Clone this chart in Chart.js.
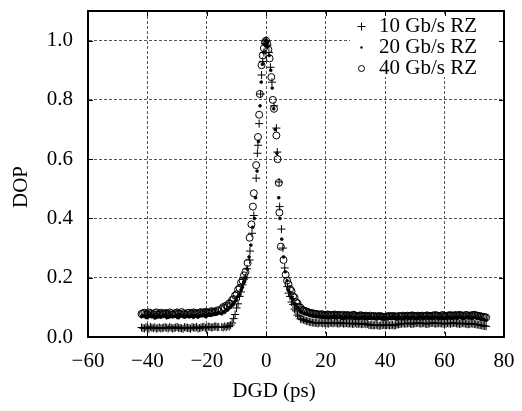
<!DOCTYPE html>
<html>
<head>
<meta charset="utf-8">
<script src="https://cdn.jsdelivr.net/npm/chart.js@4/dist/chart.umd.min.js"></script>
<style>
html, body { margin: 0; padding: 0; background: #fff; }
canvas { display: block; }
</style>
</head>
<body>
<canvas id="dopChart" width="522" height="411"></canvas>
<script>
const serif = "'Liberation Serif', 'Times New Roman', serif";

const xTicks = [-60, -40, -20, 0, 20, 40, 60, 80];
const yTicks = [0, 0.2, 0.4, 0.6, 0.8, 1.0];
const seriesNames = ['10 Gb/s RZ', '20 Gb/s RZ', '40 Gb/s RZ'];

// flat tail, negative DGD (whole ps)
const dgdLeft = [
    -42, -41, -40, -39, -38, -37, -36, -35, -34, -33,
    -32, -31, -30, -29, -28, -27, -26, -25, -24, -23,
    -22, -21, -20, -19, -18, -17, -16
];
const dop10Left = [
    0.032, 0.029, 0.031, 0.034, 0.030, 0.028, 0.032, 0.030, 0.033, 0.029,
    0.031, 0.030, 0.034, 0.031, 0.028, 0.032, 0.030, 0.033, 0.031, 0.029,
    0.032, 0.035, 0.031, 0.034, 0.033, 0.036, 0.034
];
const dop20Left = [
    0.068, 0.072, 0.065, 0.070, 0.074, 0.066, 0.071, 0.069, 0.073, 0.067,
    0.072, 0.070, 0.066, 0.074, 0.069, 0.071, 0.068, 0.073, 0.070, 0.067,
    0.072, 0.075, 0.071, 0.074, 0.077, 0.079, 0.082
];
const dop40Left = [
    0.078, 0.082, 0.075, 0.080, 0.077, 0.083, 0.076, 0.079, 0.081, 0.074,
    0.080, 0.078, 0.083, 0.077, 0.080, 0.076, 0.082, 0.079, 0.081, 0.078,
    0.084, 0.080, 0.083, 0.081, 0.086, 0.084, 0.088
];

// flat tail, negative DGD (half ps)
const dgdLeftHalf = [
    -41.5, -40.5, -39.5, -38.5, -37.5, -36.5, -35.5, -34.5, -33.5, -32.5,
    -31.5, -30.5, -29.5, -28.5, -27.5, -26.5, -25.5, -24.5, -23.5, -22.5,
    -21.5, -20.5, -19.5, -18.5, -17.5, -16.5
];
const dop10LeftHalf = [
    0.030, 0.033, 0.028, 0.031, 0.033, 0.030, 0.029, 0.032, 0.031, 0.034,
    0.029, 0.032, 0.030, 0.029, 0.033, 0.031, 0.028, 0.032, 0.034, 0.030,
    0.033, 0.031, 0.035, 0.032, 0.035, 0.033
];
const dop20LeftHalf = [
    0.071, 0.066, 0.073, 0.068, 0.064, 0.072, 0.067, 0.074, 0.065, 0.070,
    0.068, 0.073, 0.065, 0.071, 0.067, 0.074, 0.069, 0.066, 0.072, 0.070,
    0.074, 0.069, 0.076, 0.073, 0.078, 0.080
];
const dop40LeftHalf = [
    0.080, 0.076, 0.083, 0.078, 0.081, 0.075, 0.082, 0.077, 0.079, 0.083,
    0.076, 0.081, 0.079, 0.084, 0.077, 0.081, 0.078, 0.083, 0.080, 0.082,
    0.079, 0.085, 0.082, 0.087, 0.083, 0.090
];

// rising edge before the peak
const dgdRise = [-15, -14.5, -14, -13.5, -13, -12.5, -12, -11.5, -11, -10.5, -10, -9.5, -9, -8.5, -8, -7.5];
const dop10Rise = [0.034, 0.032, 0.036, 0.033, 0.037, 0.035, 0.040, 0.047, 0.062, 0.076, 0.098, 0.112, 0.137, 0.152, 0.176, 0.195];
const dop20Rise = [0.078, 0.084, 0.083, 0.090, 0.091, 0.098, 0.100, 0.108, 0.110, 0.121, 0.125, 0.138, 0.144, 0.159, 0.168, 0.186];
const dop40Rise = [0.095, 0.101, 0.098, 0.106, 0.104, 0.114, 0.112, 0.125, 0.128, 0.140, 0.144, 0.160, 0.165, 0.183, 0.190, 0.208];

// central peak
const dgd10Peak = [-7.0, -6.4, -5.6, -5.5, -4.8, -4.2, -3.4, -3.0, -2.8, -2.4, -1.9, -1.6, -1.2, -0.8, -0.4, 0.0, 0.4, 0.9, 1.4, 1.9, 2.6, 3.4, 3.7, 4.3, 4.5, 5.1, 5.6, 6.2, 7.1];
const dop10Peak = [0.20, 0.23, 0.26, 0.29, 0.35, 0.41, 0.536, 0.62, 0.647, 0.72, 0.82, 0.884, 0.93, 0.96, 0.99, 1.0, 0.985, 0.96, 0.91, 0.86, 0.78, 0.705, 0.624, 0.523, 0.44, 0.364, 0.30, 0.233, 0.17];
const dgd20Peak = [-7.0, -6.5, -5.8, -5.2, -4.6, -4.0, -3.6, -3.1, -2.6, -2.1, -1.7, -1.3, -0.9, -0.5, -0.2, 0.2, 0.6, 1.0, 1.5, 2.0, 2.5, 3.0, 3.6, 4.2, 4.6, 5.2, 5.8, 6.4, 7.0];
const dop20Peak = [0.20, 0.23, 0.27, 0.31, 0.37, 0.40, 0.47, 0.56, 0.66, 0.78, 0.86, 0.92, 0.96, 0.985, 1.0, 0.995, 0.98, 0.95, 0.90, 0.84, 0.77, 0.70, 0.62, 0.47, 0.40, 0.33, 0.27, 0.22, 0.19];
const dgd40Peak = [-7.0, -6.3, -5.6, -5.0, -4.5, -4.2, -3.4, -2.8, -2.4, -2.2, -1.6, -1.2, -0.8, -0.4, -0.1, 0.3, 0.7, 1.1, 1.7, 2.2, 2.6, 3.4, 3.8, 4.2, 4.4, 4.9, 5.8, 6.5, 7.0];
const dop40Peak = [0.22, 0.25, 0.335, 0.38, 0.44, 0.485, 0.58, 0.675, 0.75, 0.82, 0.917, 0.95, 0.975, 0.995, 1.0, 0.99, 0.97, 0.94, 0.877, 0.80, 0.77, 0.68, 0.60, 0.52, 0.42, 0.305, 0.26, 0.21, 0.19];

// falling edge after the peak
const dgdFall = [7.5, 8, 8.5, 9, 9.5, 10, 10.5, 11, 11.5];
const dop10Fall = [0.148, 0.137, 0.118, 0.110, 0.094, 0.088, 0.074, 0.070, 0.061];
const dop20Fall = [0.158, 0.150, 0.134, 0.128, 0.113, 0.110, 0.098, 0.096, 0.086];
const dop40Fall = [0.178, 0.162, 0.155, 0.138, 0.133, 0.118, 0.114, 0.102, 0.099];

// flat tail, positive DGD (whole ps)
const dgdRight = [
    12, 13, 14, 15, 16, 17, 18, 19, 20, 21,
    22, 23, 24, 25, 26, 27, 28, 29, 30, 31,
    32, 33, 34, 35, 36, 37, 38, 39, 40, 41,
    42, 43, 44, 45, 46, 47, 48, 49, 50, 51,
    52, 53, 54, 55, 56, 57, 58, 59, 60, 61,
    62, 63, 64, 65, 66, 67, 68, 69, 70, 71,
    72, 73, 74
];
const dop10Right = [
    0.060, 0.056, 0.053, 0.050, 0.048, 0.047, 0.049, 0.046, 0.048, 0.045,
    0.047, 0.049, 0.046, 0.048, 0.045, 0.047, 0.046, 0.044, 0.047, 0.045,
    0.043, 0.046, 0.044, 0.040, 0.039, 0.041, 0.038, 0.040, 0.039, 0.041,
    0.040, 0.038, 0.042, 0.044, 0.046, 0.045, 0.047, 0.044, 0.046, 0.048,
    0.045, 0.047, 0.044, 0.046, 0.048, 0.045, 0.047, 0.046, 0.044, 0.047,
    0.045, 0.048, 0.046, 0.044, 0.047, 0.045, 0.043, 0.046, 0.044, 0.042,
    0.040, 0.038, 0.036
];
const dop20Right = [
    0.082, 0.078, 0.076, 0.072, 0.070, 0.068, 0.071, 0.066, 0.069, 0.064,
    0.067, 0.070, 0.065, 0.068, 0.063, 0.066, 0.069, 0.064, 0.067, 0.062,
    0.065, 0.068, 0.063, 0.066, 0.064, 0.062, 0.065, 0.063, 0.066, 0.061,
    0.064, 0.067, 0.063, 0.065, 0.062, 0.066, 0.064, 0.067, 0.063, 0.065,
    0.068, 0.064, 0.066, 0.063, 0.067, 0.065, 0.062, 0.066, 0.064, 0.068,
    0.063, 0.066, 0.064, 0.067, 0.062, 0.065, 0.068, 0.064, 0.066, 0.063,
    0.060, 0.058, 0.056
];
const dop40Right = [
    0.092, 0.088, 0.084, 0.081, 0.079, 0.077, 0.075, 0.076, 0.074, 0.075,
    0.073, 0.076, 0.074, 0.072, 0.075, 0.073, 0.071, 0.074, 0.072, 0.070,
    0.073, 0.071, 0.069, 0.072, 0.070, 0.068, 0.071, 0.069, 0.068, 0.070,
    0.069, 0.071, 0.068, 0.070, 0.072, 0.069, 0.071, 0.073, 0.070, 0.072,
    0.069, 0.071, 0.073, 0.070, 0.072, 0.074, 0.071, 0.073, 0.070, 0.072,
    0.074, 0.071, 0.073, 0.075, 0.072, 0.074, 0.071, 0.073, 0.075, 0.072,
    0.070, 0.068, 0.066
];

// flat tail, positive DGD (half ps)
const dgdRightHalf = [
    12.5, 13.5, 14.5, 15.5, 16.5, 17.5, 18.5, 19.5, 20.5, 21.5,
    22.5, 23.5, 24.5, 25.5, 26.5, 27.5, 28.5, 29.5, 30.5, 31.5,
    32.5, 33.5, 34.5, 35.5, 36.5, 37.5, 38.5, 39.5, 40.5, 41.5,
    42.5, 43.5, 44.5, 45.5, 46.5, 47.5, 48.5, 49.5, 50.5, 51.5,
    52.5, 53.5, 54.5, 55.5, 56.5, 57.5, 58.5, 59.5, 60.5, 61.5,
    62.5, 63.5, 64.5, 65.5, 66.5, 67.5, 68.5, 69.5, 70.5, 71.5,
    72.5, 73.5
];
const dop10RightHalf = [
    0.058, 0.054, 0.051, 0.049, 0.048, 0.046, 0.048, 0.047, 0.046, 0.048,
    0.046, 0.047, 0.045, 0.047, 0.046, 0.045, 0.046, 0.045, 0.044, 0.045,
    0.044, 0.043, 0.041, 0.040, 0.040, 0.039, 0.039, 0.041, 0.040, 0.039,
    0.041, 0.040, 0.043, 0.045, 0.045, 0.046, 0.045, 0.045, 0.047, 0.046,
    0.046, 0.045, 0.045, 0.047, 0.046, 0.046, 0.046, 0.045, 0.045, 0.046,
    0.046, 0.047, 0.045, 0.045, 0.046, 0.044, 0.044, 0.045, 0.043, 0.041,
    0.039, 0.037
];
const dop20RightHalf = [
    0.080, 0.077, 0.073, 0.071, 0.069, 0.070, 0.067, 0.068, 0.065, 0.067,
    0.069, 0.066, 0.067, 0.064, 0.068, 0.065, 0.067, 0.063, 0.066, 0.064,
    0.067, 0.064, 0.065, 0.063, 0.064, 0.066, 0.062, 0.065, 0.063, 0.064,
    0.066, 0.064, 0.066, 0.063, 0.065, 0.067, 0.064, 0.066, 0.064, 0.067,
    0.065, 0.067, 0.064, 0.066, 0.063, 0.065, 0.067, 0.063, 0.066, 0.065,
    0.064, 0.067, 0.063, 0.066, 0.064, 0.067, 0.065, 0.063, 0.065, 0.064,
    0.059, 0.057
];
const dop40RightHalf = [
    0.090, 0.086, 0.082, 0.080, 0.078, 0.076, 0.077, 0.073, 0.076, 0.074,
    0.075, 0.072, 0.075, 0.073, 0.071, 0.074, 0.072, 0.075, 0.071, 0.073,
    0.070, 0.072, 0.070, 0.069, 0.071, 0.069, 0.070, 0.067, 0.069, 0.071,
    0.070, 0.068, 0.071, 0.069, 0.071, 0.072, 0.070, 0.072, 0.069, 0.071,
    0.072, 0.070, 0.072, 0.071, 0.073, 0.072, 0.070, 0.074, 0.071, 0.073,
    0.072, 0.074, 0.072, 0.073, 0.071, 0.074, 0.072, 0.074, 0.073, 0.071,
    0.069, 0.067
];

function pts(xs, ys) {
    return xs.map((x, i) => ({ x: x, y: ys[i] }));
}

const series10 = [
    ...pts(dgdLeft, dop10Left), ...pts(dgdLeftHalf, dop10LeftHalf), ...pts(dgdRise, dop10Rise),
    ...pts(dgd10Peak, dop10Peak), ...pts(dgdFall, dop10Fall),
    ...pts(dgdRight, dop10Right), ...pts(dgdRightHalf, dop10RightHalf)
];
const series20 = [
    ...pts(dgdLeft, dop20Left), ...pts(dgdLeftHalf, dop20LeftHalf), ...pts(dgdRise, dop20Rise),
    ...pts(dgd20Peak, dop20Peak), ...pts(dgdFall, dop20Fall),
    ...pts(dgdRight, dop20Right), ...pts(dgdRightHalf, dop20RightHalf)
];
const series40 = [
    ...pts(dgdLeft, dop40Left), ...pts(dgdLeftHalf, dop40LeftHalf), ...pts(dgdRise, dop40Rise),
    ...pts(dgd40Peak, dop40Peak), ...pts(dgdFall, dop40Fall),
    ...pts(dgdRight, dop40Right), ...pts(dgdRightHalf, dop40RightHalf)
];

// small glyphs for the key
function markCanvas(kind) {
    const c = document.createElement('canvas');
    const size = kind === 'cross' ? 11 : kind === 'circle' ? 9 : 5;
    c.width = size; c.height = size;
    const g = c.getContext('2d');
    g.strokeStyle = '#000';
    g.fillStyle = '#000';
    g.lineWidth = 1;
    if (kind === 'cross') {
        g.beginPath();
        g.moveTo(5.5, 1.5); g.lineTo(5.5, 9.5);
        g.moveTo(1.5, 5.5); g.lineTo(9.5, 5.5);
        g.stroke();
    } else if (kind === 'circle') {
        g.beginPath();
        g.arc(4.5, 4.5, 3, 0, Math.PI * 2);
        g.stroke();
    } else {
        g.beginPath();
        g.arc(2.5, 2.5, 1.2, 0, Math.PI * 2);
        g.fill();
    }
    return c;
}
const legendMarks = [markCanvas('cross'), markCanvas('dot'), markCanvas('circle')];

const legendPlace = {
    id: 'legendPlace',
    beforeLayout(chart) {
        const lg = chart.legend;
        if (!lg || lg._boxed) return;
        lg._boxed = true;
        lg._layers = () => [{
            z: 0,
            draw: area => {
                const a = chart.chartArea, ctx = chart.ctx;
                ctx.save();
                ctx.fillStyle = '#fff';
                ctx.fillRect(a.right - 154, a.top + 4, 152, 62);
                ctx.restore();
                lg.draw(area);
            }
        }];
    },
    afterLayout(chart) {
        const lg = chart.legend, a = chart.chartArea;
        lg.left = a.right - 149.5;
        lg.top = a.top + 5;
        lg.right = lg.left + lg.width;
        lg.bottom = lg.top + lg.height;
    }
};

const framePlugin = {
    id: 'frame',
    beforeDatasetsDraw(chart) {
        const { ctx, chartArea: a, scales: { x, y } } = chart;
        ctx.save();
        ctx.strokeStyle = '#000';
        ctx.lineWidth = 1;
        ctx.beginPath();
        xTicks.forEach(v => {
            const px = Math.round(x.getPixelForValue(v)) + 0.5;
            ctx.moveTo(px, a.bottom); ctx.lineTo(px, a.bottom - 5);
            ctx.moveTo(px, a.top); ctx.lineTo(px, a.top + 5);
        });
        yTicks.forEach(v => {
            const py = Math.round(y.getPixelForValue(v)) + 0.5;
            ctx.moveTo(a.left, py); ctx.lineTo(a.left + 5, py);
            ctx.moveTo(a.right, py); ctx.lineTo(a.right - 5, py);
        });
        ctx.stroke();
        ctx.lineWidth = 2;
        ctx.strokeRect(a.left, a.top, a.right - a.left, a.bottom - a.top);
        ctx.restore();
    }
};

const titlesPlugin = {
    id: 'axisTitles',
    afterDraw(chart) {
        const { ctx, chartArea: a } = chart;
        ctx.save();
        ctx.fillStyle = '#000';
        ctx.font = '21px ' + serif;
        ctx.textAlign = 'center';
        ctx.textBaseline = 'middle';
        ctx.fillText('DGD (ps)', (a.left + a.right) / 2 - 22, a.bottom + 54);
        ctx.translate(21.5, (a.top + a.bottom) / 2 + 13);
        ctx.rotate(-Math.PI / 2);
        ctx.fillText('DOP', 0, 0);
        ctx.restore();
    }
};

const tickFont = { family: serif, size: 21 };

new Chart(document.getElementById('dopChart'), {
    type: 'scatter',
    data: {
        datasets: [{
            label: seriesNames[0],
            data: series10,
            pointStyle: 'cross',
            pointRadius: 4,
            pointHoverRadius: 4,
            borderColor: '#000',
            backgroundColor: '#000',
            borderWidth: 1
        }, {
            label: seriesNames[1],
            data: series20,
            pointStyle: 'circle',
            pointRadius: 1.4,
            pointHoverRadius: 1.4,
            borderColor: '#000',
            backgroundColor: '#000',
            borderWidth: 0.8
        }, {
            label: seriesNames[2],
            data: series40,
            pointStyle: 'circle',
            pointRadius: 3.5,
            pointHoverRadius: 3.5,
            borderColor: '#000',
            backgroundColor: 'rgba(0,0,0,0)',
            borderWidth: 1
        }]
    },
    options: {
        responsive: false,
        animation: false,
        devicePixelRatio: 1,
        events: [],
        layout: { padding: { top: 11, right: 18, left: 0, bottom: 0 } },
        plugins: {
            tooltip: { enabled: false },
            legend: {
                position: 'chartArea',
                align: 'start',
                labels: {
                    font: tickFont,
                    color: '#000',
                    usePointStyle: true,
                    pointStyleWidth: 14,
                    padding: 0,
                    generateLabels: chart => chart.data.datasets.map((ds, i) => ({
                        text: ds.label,
                        pointStyle: legendMarks[i],
                        fillStyle: '#000',
                        strokeStyle: '#000',
                        fontColor: '#000',
                        lineWidth: 1,
                        hidden: false,
                        datasetIndex: i
                    }))
                }
            }
        },
        scales: {
            x: {
                type: 'linear',
                position: 'bottom',
                min: -60,
                max: 80,
                afterBuildTicks: s => { s.ticks = xTicks.map(v => ({ value: v })); },
                afterFit: s => { s.height = 74; s.paddingLeft = 0; s.paddingRight = 0; },
                ticks: {
                    font: tickFont,
                    color: '#000',
                    padding: 12,
                    maxRotation: 0,
                    autoSkip: false,
                    callback: v => v < 0 ? '\u2212' + Math.abs(v) : String(v)
                },
                grid: { color: '#555', lineWidth: 1, drawTicks: false },
                border: { color: '#000', width: 2, dash: [3, 2] }
            },
            y: {
                type: 'linear',
                min: 0,
                max: 1.1,
                afterBuildTicks: s => { s.ticks = yTicks.map(v => ({ value: v })); },
                afterFit: s => { s.width = 88; s.paddingTop = 0; s.paddingBottom = 0; },
                ticks: {
                    font: tickFont,
                    color: '#000',
                    padding: 15,
                    callback: v => v.toFixed(1)
                },
                grid: { color: '#555', lineWidth: 1, drawTicks: false },
                border: { color: '#000', width: 2, dash: [3, 2] }
            }
        }
    },
    plugins: [legendPlace, framePlugin, titlesPlugin]
});
</script>
</body>
</html>
